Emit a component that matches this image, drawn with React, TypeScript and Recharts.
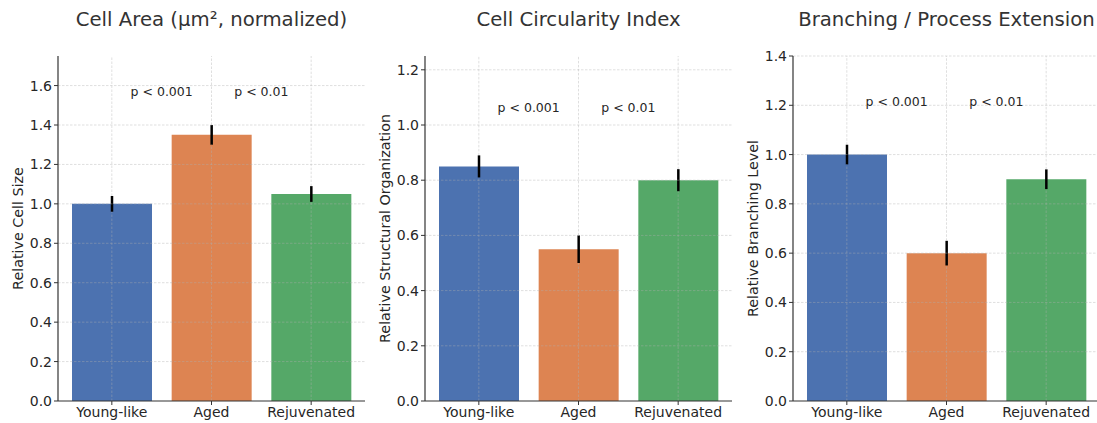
import {
  BarChart,
  Bar,
  XAxis,
  YAxis,
  ErrorBar,
  Cell,
  ReferenceDot,
  ReferenceLine,
} from "recharts";

const categories = ["Young-like", "Aged", "Rejuvenated"];
const colors = ["#4C72B0", "#DD8452", "#55A868"];
const pLabels = ["p < 0.001", "p < 0.01"];
const pPositions = [0.5, 1.5];

const areaMeans = [1.0, 1.35, 1.05];
const areaErrors = [0.04, 0.05, 0.04];
const areaTicks = [0, 0.2, 0.4, 0.6, 0.8, 1.0, 1.2, 1.4, 1.6];

const circMeans = [0.85, 0.55, 0.8];
const circErrors = [0.04, 0.05, 0.04];
const circTicks = [0, 0.2, 0.4, 0.6, 0.8, 1.0, 1.2];

const branchMeans = [1.0, 0.6, 0.9];
const branchErrors = [0.04, 0.05, 0.04];
const branchTicks = [0, 0.2, 0.4, 0.6, 0.8, 1.0, 1.2, 1.4];

const CHART_W = 365;
const CHART_H = 423;
const AXIS_W = 58;
const GRID = { stroke: "#b0b0b0", strokeOpacity: 0.5, strokeDasharray: "2.5 1.5", strokeWidth: 0.8 };

const YLabel = (props: any) => {
  const { viewBox, text } = props;
  const x = viewBox.x + 18;
  const y = viewBox.y + viewBox.height / 2;
  return (
    <text
      x={x}
      y={y}
      transform={`rotate(-90, ${x}, ${y})`}
      textAnchor="middle"
      dominantBaseline="central"
      fontSize={14.3}
      fill="#262626"
    >
      {text}
    </text>
  );
};

// x tick labels: baseline placed just under the tick mark
const XTick = (props: any) => {
  const { x, y, payload } = props;
  return (
    <text x={x} y={y + 11} textAnchor="middle" fontSize={14} fill="#262626">
      {payload.value}
    </text>
  );
};

type PanelProps = {
  left: number;
  title: string;
  yLabel: string;
  means: number[];
  errors: number[];
  yMax: number;
  ticks: number[];
  pY: number;
};

const Panel = ({ left, title, yLabel, means, errors, yMax, ticks, pY }: PanelProps) => {
  const data = categories.map((name, i) => ({
    name,
    idx: i,
    value: means[i],
    err: errors[i],
  }));

  return (
    <div style={{ position: "absolute", left, top: 0, width: CHART_W, height: CHART_H }}>
      <div
        style={{
          position: "absolute",
          left: AXIS_W - 100,
          top: 6,
          width: CHART_W - AXIS_W + 200,
          textAlign: "center",
          fontSize: 19.7,
          color: "#333",
          whiteSpace: "nowrap",
          lineHeight: "28px",
        }}
      >
        {title}
      </div>
      <BarChart
        width={CHART_W}
        height={CHART_H}
        data={data}
        margin={{ top: 56, right: 0, bottom: 0, left: 0 }}
      >
        <XAxis
          dataKey="name"
          height={22}
          padding={{ left: 4, right: 4 }}
          tickSize={4}
          tickMargin={1}
          tick={<XTick />}
          tickLine={{ stroke: "#333" }}
          axisLine={{ stroke: "#333", strokeWidth: 1.2 }}
        />
        <XAxis xAxisId="num" dataKey="idx" type="number" domain={[-0.54, 2.54]} hide />
        <YAxis
          type="number"
          domain={[0, yMax]}
          ticks={ticks}
          width={AXIS_W}
          tickSize={4}
          tickMargin={2}
          tickFormatter={(v: number) => v.toFixed(1)}
          tick={{ fill: "#262626", fontSize: 14 }}
          tickLine={{ stroke: "#333" }}
          axisLine={{ stroke: "#333", strokeWidth: 1.2 }}
          label={<YLabel text={yLabel} />}
        />
        <Bar dataKey="value" barSize={80} isAnimationActive={false}>
          {data.map((d, i) => (
            <Cell key={d.name} fill={colors[i]} />
          ))}
          <ErrorBar dataKey="err" width={0} stroke="#000" strokeWidth={2.5} direction="y" />
        </Bar>
        {/* vertical grid split around each error bar so the bar stays solid */}
        {data.map((d) => (
          <ReferenceLine
            key={`lo-${d.name}`}
            segment={[
              { x: d.name, y: 0 },
              { x: d.name, y: d.value - d.err },
            ]}
            {...GRID}
          />
        ))}
        {data.map((d) => (
          <ReferenceLine
            key={`hi-${d.name}`}
            segment={[
              { x: d.name, y: d.value + d.err },
              { x: d.name, y: yMax },
            ]}
            {...GRID}
          />
        ))}
        {ticks
          .filter((t) => t > 0)
          .map((t) => (
            <ReferenceLine key={t} y={t} {...GRID} />
          ))}
        {pLabels.map((t, i) => (
          <ReferenceDot
            key={t}
            xAxisId="num"
            x={pPositions[i]}
            y={pY}
            r={0}
            fill="none"
            stroke="none"
            label={{ value: t, position: "top", offset: -1, fontSize: 12.5, fill: "#262626" }}
          />
        ))}
      </BarChart>
    </div>
  );
};

export default function App() {
  return (
    <div
      style={{
        position: "fixed",
        left: 0,
        top: 0,
        width: 1097,
        height: 423,
        overflow: "hidden",
        background: "#fff",
        fontFamily: "'DejaVu Sans', sans-serif",
      }}
    >
      <Panel
        left={0}
        title="Cell Area (µm², normalized)"
        yLabel="Relative Cell Size"
        means={areaMeans}
        errors={areaErrors}
        yMax={1.75}
        ticks={areaTicks}
        pY={1.55}
      />
      <Panel
        left={367}
        title="Cell Circularity Index"
        yLabel="Relative Structural Organization"
        means={circMeans}
        errors={circErrors}
        yMax={1.25}
        ticks={circTicks}
        pY={1.05}
      />
      <Panel
        left={735}
        title="Branching / Process Extension"
        yLabel="Relative Branching Level"
        means={branchMeans}
        errors={branchErrors}
        yMax={1.4}
        ticks={branchTicks}
        pY={1.2}
      />
    </div>
  );
}
